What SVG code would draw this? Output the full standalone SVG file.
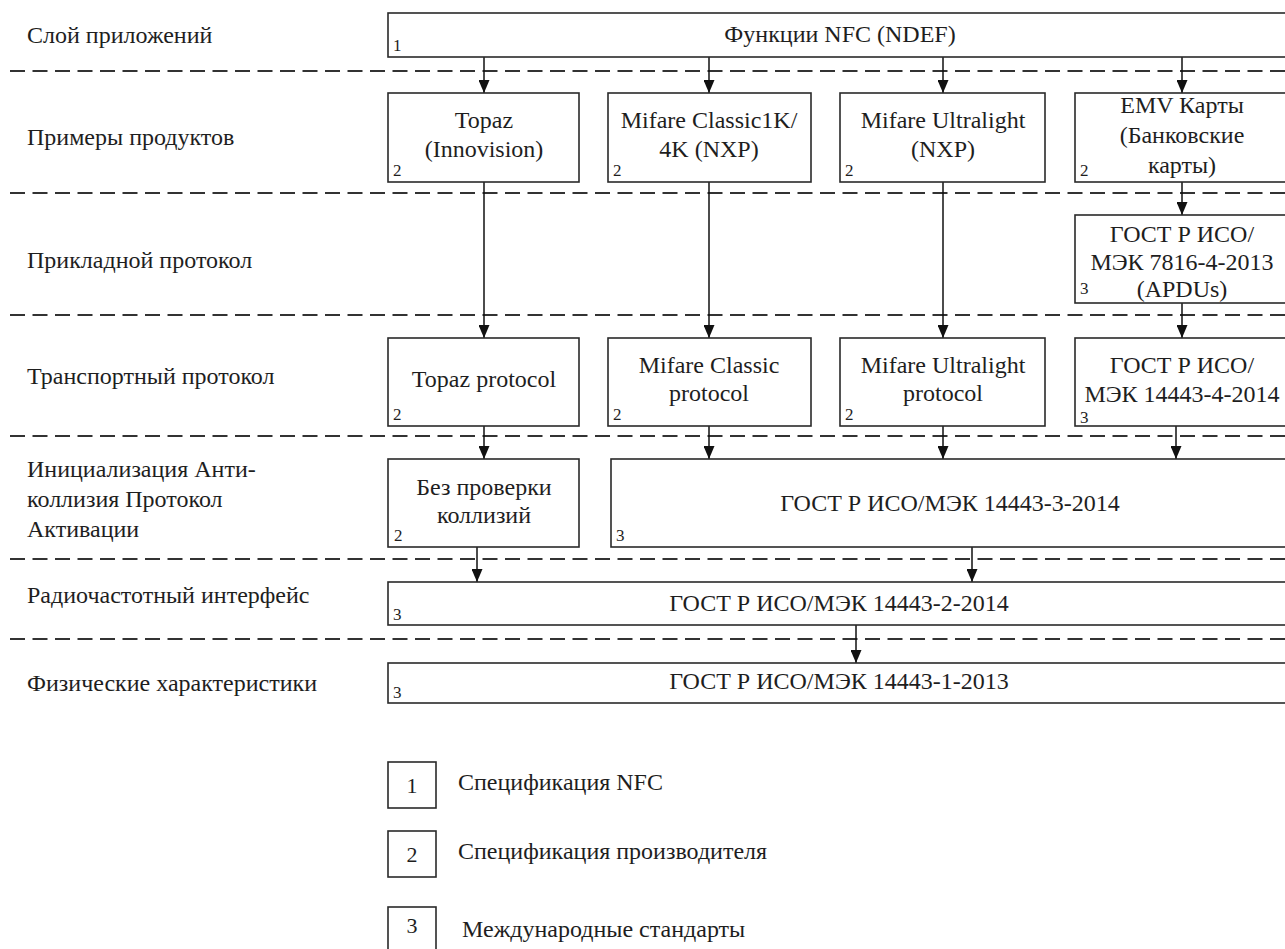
<svg xmlns="http://www.w3.org/2000/svg" width="1285" height="949" viewBox="0 0 1285 949">
<style>
text{font-family:'Liberation Serif',Tinos,'Times New Roman',Times,'Noto Serif','DejaVu Serif',FreeSerif,serif;fill:#1e1e1e}
.t{font-size:24px;text-anchor:middle}
.lab{font-size:24px}
.n{font-size:17px}
.ln{font-size:22px;text-anchor:middle}
.box{fill:#fff;stroke:#2a2a2a;stroke-width:1.6}
.sep{stroke:#333;stroke-width:2;stroke-dasharray:15 7.5;fill:none}
.c{stroke:#111;stroke-width:1.5;fill:none;marker-end:url(#ah)}
</style>
<defs>
<marker id="ah" viewBox="0 0 13 11" refX="13" refY="5.5" markerWidth="13" markerHeight="11" markerUnits="userSpaceOnUse" orient="auto">
<path d="M0,0 L13,5.5 L0,11 z" fill="#111"/>
</marker>
</defs>
<rect width="1285" height="949" fill="#fff"/>

<g id="separators">
<line class="sep" x1="10" y1="71" x2="1285" y2="71"/>
<line class="sep" x1="10" y1="193" x2="1285" y2="193"/>
<line class="sep" x1="10" y1="315" x2="1285" y2="315"/>
<line class="sep" x1="10" y1="436" x2="1285" y2="436"/>
<line class="sep" x1="10" y1="559" x2="1285" y2="559"/>
<line class="sep" x1="10" y1="639" x2="1285" y2="639"/>
</g>

<g id="layer-labels">
<text class="lab" x="27" y="43">Слой приложений</text>
<text class="lab" x="27" y="145">Примеры продуктов</text>
<text class="lab" x="27" y="268">Прикладной протокол</text>
<text class="lab" x="27" y="384">Транспортный протокол</text>
<text class="lab" x="27" y="477">Инициализация Анти-</text>
<text class="lab" x="27" y="507">коллизия Протокол</text>
<text class="lab" x="27" y="537">Активации</text>
<text class="lab" x="27" y="603">Радиочастотный интерфейс</text>
<text class="lab" x="27" y="691">Физические характеристики</text>
</g>

<g id="connectors">
<line class="c" x1="484" y1="57" x2="484" y2="93"/>
<line class="c" x1="709" y1="57" x2="709" y2="93"/>
<line class="c" x1="943" y1="57" x2="943" y2="93"/>
<line class="c" x1="1182" y1="57" x2="1182" y2="93"/>
<line class="c" x1="484" y1="182" x2="484" y2="338"/>
<line class="c" x1="709" y1="182" x2="709" y2="338"/>
<line class="c" x1="943" y1="182" x2="943" y2="338"/>
<line class="c" x1="1182" y1="182" x2="1182" y2="215"/>
<line class="c" x1="1182" y1="303" x2="1182" y2="338"/>
<line class="c" x1="484" y1="426" x2="484" y2="459"/>
<line class="c" x1="709" y1="426" x2="709" y2="459"/>
<line class="c" x1="943" y1="426" x2="943" y2="459"/>
<line class="c" x1="1176" y1="426" x2="1176" y2="459"/>
<line class="c" x1="477" y1="547" x2="477" y2="582"/>
<line class="c" x1="972" y1="547" x2="972" y2="582"/>
<line class="c" x1="856" y1="625" x2="856" y2="663"/>
</g>

<g id="n-nfc">
<rect class="box" x="388" y="13" width="905" height="44"/>
<text class="t" x="840" y="42">Функции NFC (NDEF)</text>
<text class="n" x="393" y="51">1</text>
</g>

<g id="n-topaz">
<rect class="box" x="388" y="93" width="191" height="89"/>
<text class="t" x="484" y="128">Topaz</text>
<text class="t" x="484" y="157">(Innovision)</text>
<text class="n" x="393" y="176">2</text>
</g>
<g id="n-mifare-classic">
<rect class="box" x="608" y="93" width="203" height="89"/>
<text class="t" x="709" y="128">Mifare Classic1K/</text>
<text class="t" x="709" y="157">4K (NXP)</text>
<text class="n" x="613" y="176">2</text>
</g>
<g id="n-mifare-ul">
<rect class="box" x="840" y="93" width="205" height="89"/>
<text class="t" x="943" y="128">Mifare Ultralight</text>
<text class="t" x="943" y="157">(NXP)</text>
<text class="n" x="845" y="176">2</text>
</g>
<g id="n-emv">
<rect class="box" x="1075" y="93" width="215" height="89"/>
<text class="t" x="1182" y="113">EMV Карты</text>
<text class="t" x="1182" y="143">(Банковские</text>
<text class="t" x="1182" y="173">карты)</text>
<text class="n" x="1080" y="176">2</text>
</g>

<g id="n-7816">
<rect class="box" x="1075" y="215" width="215" height="88"/>
<text class="t" x="1182" y="242">ГОСТ Р ИСО/</text>
<text class="t" x="1182" y="270">МЭК 7816-4-2013</text>
<text class="t" x="1182" y="297">(APDUs)</text>
<text class="n" x="1080" y="294">3</text>
</g>

<g id="n-topaz-protocol">
<rect class="box" x="388" y="338" width="191" height="88"/>
<text class="t" x="484" y="387">Topaz protocol</text>
<text class="n" x="393" y="420">2</text>
</g>
<g id="n-mc-protocol">
<rect class="box" x="608" y="338" width="203" height="88"/>
<text class="t" x="709" y="373">Mifare Classic</text>
<text class="t" x="709" y="401">protocol</text>
<text class="n" x="613" y="420">2</text>
</g>
<g id="n-ul-protocol">
<rect class="box" x="840" y="338" width="205" height="88"/>
<text class="t" x="943" y="373">Mifare Ultralight</text>
<text class="t" x="943" y="401">protocol</text>
<text class="n" x="845" y="420">2</text>
</g>
<g id="n-14443-4">
<rect class="box" x="1075" y="338" width="215" height="88"/>
<text class="t" x="1182" y="373">ГОСТ Р ИСО/</text>
<text class="t" x="1182" y="402">МЭК 14443-4-2014</text>
<text class="n" x="1080" y="423">3</text>
</g>

<g id="n-no-collision">
<rect class="box" x="388" y="459" width="191" height="88"/>
<text class="t" x="484" y="495">Без проверки</text>
<text class="t" x="484" y="523">коллизий</text>
<text class="n" x="394" y="541">2</text>
</g>
<g id="n-14443-3">
<rect class="box" x="611" y="459" width="679" height="88"/>
<text class="t" x="950" y="511">ГОСТ Р ИСО/МЭК 14443-3-2014</text>
<text class="n" x="616" y="541">3</text>
</g>

<g id="n-14443-2">
<rect class="box" x="388" y="582" width="902" height="43"/>
<text class="t" x="839" y="611">ГОСТ Р ИСО/МЭК 14443-2-2014</text>
<text class="n" x="393" y="620">3</text>
</g>
<g id="n-14443-1">
<rect class="box" x="388" y="663" width="902" height="40"/>
<text class="t" x="839" y="689">ГОСТ Р ИСО/МЭК 14443-1-2013</text>
<text class="n" x="393" y="698">3</text>
</g>

<g id="legend">
<rect class="box" x="388" y="762" width="48" height="46"/>
<text class="ln" x="412" y="793">1</text>
<text class="lab" x="458" y="790">Спецификация NFC</text>
<rect class="box" x="388" y="831" width="48" height="46"/>
<text class="ln" x="412" y="862">2</text>
<text class="lab" x="458" y="859">Спецификация производителя</text>
<rect class="box" x="388" y="907" width="48" height="50"/>
<text class="ln" x="412" y="933">3</text>
<text class="lab" x="462" y="937">Международные стандарты</text>
</g>
</svg>
